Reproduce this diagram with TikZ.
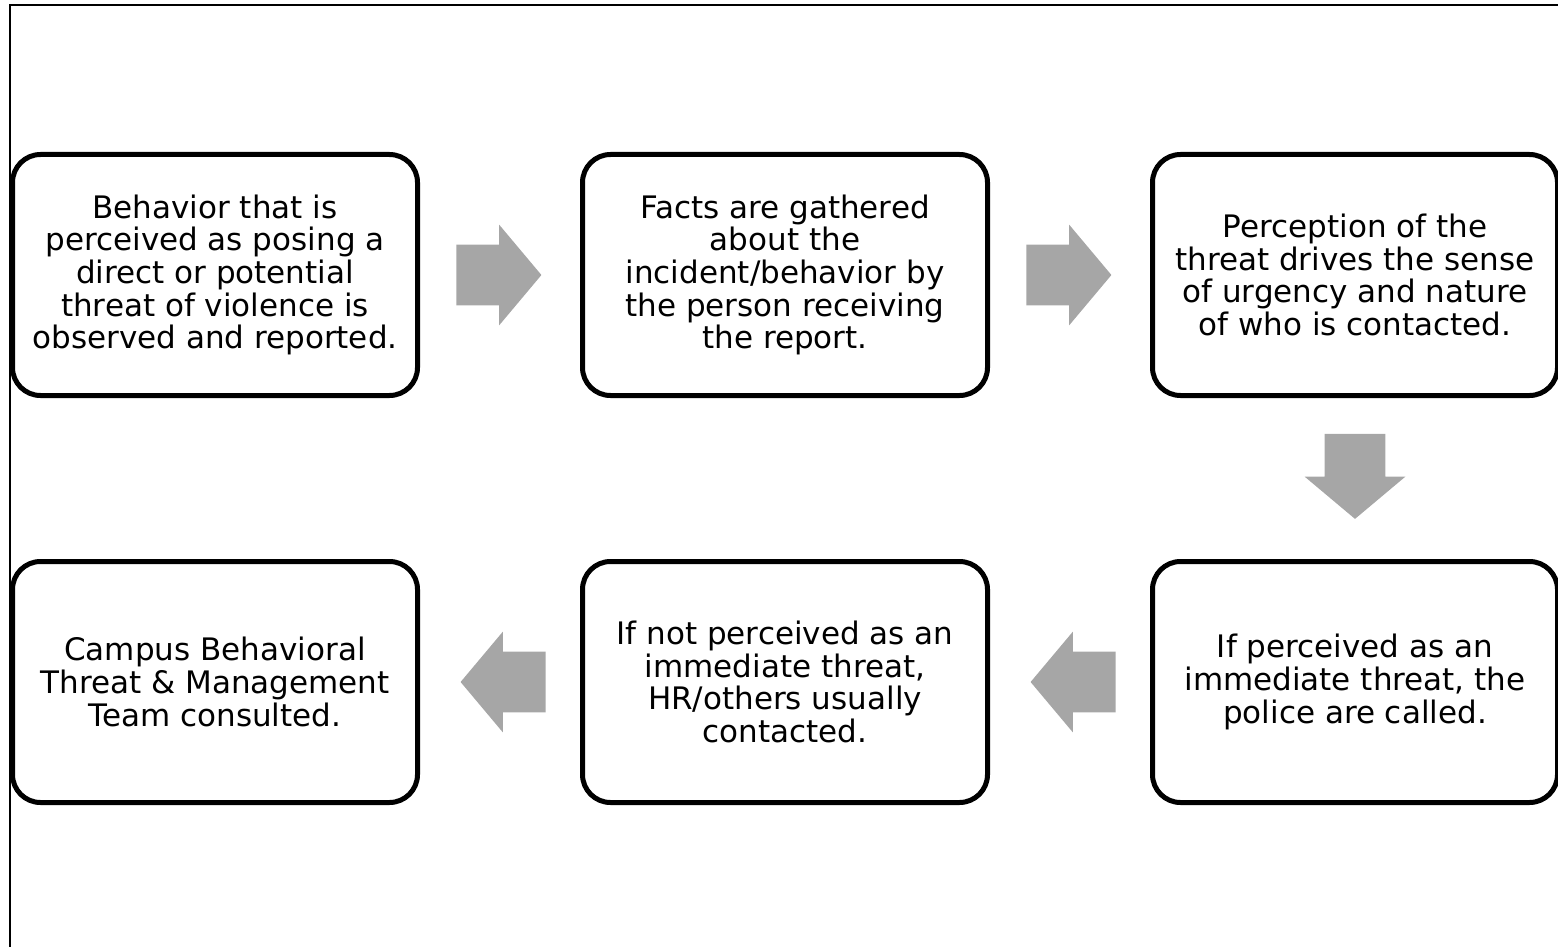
\documentclass[tikz,border=0pt]{standalone}
\usepackage{fontspec}
\setmainfont{DejaVu Sans}
\usetikzlibrary{calc, shapes.arrows}

\begin{document}
\begin{tikzpicture}[x=0.5pt, y=-0.5pt,
  stepbox/.style={draw, line width=2.5pt, rounded corners=14pt,
    minimum width=202.5pt, minimum height=120.5pt, inner sep=0pt,
    align=center, font=\fontsize{15.5}{16.3}\selectfont},
  flowarrow/.style={single arrow, fill=black!35, draw=none, anchor=tail,
    inner xsep=0pt, inner ysep=15pt, minimum height=42.5pt,
    single arrow head extend=10pt, single arrow tip angle=100}]
  \useasboundingbox (0,0) rectangle (1558,947);
  % frame
  \draw[line width=1.2pt] (10,947) -- (10,5) -- (1558,5);
  % top row
  \node[stepbox] (b1) at (215,275) {Behavior that is\\perceived as posing a\\direct or potential\\threat of violence is\\observed and reported.};
  \node[stepbox] (b2) at (785,275) {Facts are gathered\\about the\\incident/behavior by\\the person receiving\\the report.};
  \node[stepbox] (b3) at (1355,275) {Perception of the\\threat drives the sense\\of urgency and nature\\of who is contacted.};
  % bottom row
  \node[stepbox] (b4) at (1355,682) {If perceived as an\\immediate threat, the\\police are called.};
  \node[stepbox] (b5) at (785,682) {If not perceived as an\\immediate threat,\\HR/others usually\\contacted.};
  \node[stepbox] (b6) at (215,682) {Campus Behavioral\\Threat \& Management\\Team consulted.};
  % arrows
  \node[flowarrow] (a1) at ($(b1.east)!0.5!(b2.west)+(-44,0)$) {};
  \node[flowarrow] (a2) at ($(b2.east)!0.5!(b3.west)+(-44,0)$) {};
  \node[flowarrow, rotate=-90] (a3) at ($(b3.south)!0.5!(b4.north)+(0,-45)$) {};
  \node[flowarrow, rotate=180] (a4) at ($(b4.west)!0.5!(b5.east)+(46,0)$) {};
  \node[flowarrow, rotate=180] (a5) at ($(b5.west)!0.5!(b6.east)+(46,0)$) {};
\end{tikzpicture}
\end{document}
